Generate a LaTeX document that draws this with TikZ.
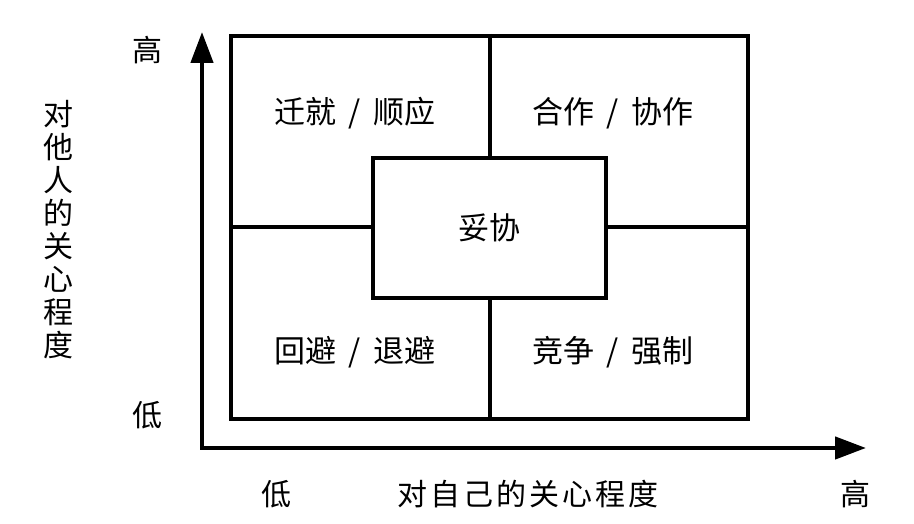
\documentclass[tikz,border=0pt]{standalone}
\usepackage{fontspec}
\setmainfont{Noto Sans CJK SC}
\newfontfamily\cjkwide[LetterSpace=10]{Noto Sans CJK SC}
\usetikzlibrary{arrows.meta}
\newcommand\qsep{\hspace{.4em}/\hspace{.4em}}
\begin{document}
\begin{tikzpicture}[x=1pt,y=1pt,font=\fontsize{30}{34}\selectfont,
  axis/.style={line width=4.5pt,-{Triangle[length=31pt,width=22pt]}},
  cell/.style={draw,line width=4pt,inner sep=0pt},
  quad/.style={font=\fontsize{31}{34}\selectfont}]
\useasboundingbox (0,0) rectangle (914,524);
% axes
\coordinate (O) at (202,76);
\coordinate (ytip) at (202,492);
\coordinate (xtip) at (866,76);
\draw[axis] ([yshift=-2pt]O) -- (ytip);
\draw[axis] ([xshift=-2pt]O) -- (xtip);
\node (yhigh) at (147,474) {高};
\node (ylow) at (147,109) {低};
\node[align=center,font=\fontsize{30}{33}\selectfont] (ylabel) at (58,294)
  {对\\他\\人\\的\\关\\心\\程\\度};
\node (xlow) at (276,30) {低};
\node (xlabel) at (528,30) {\cjkwide 对自己的关心程度};
\node (xhigh) at (855,30) {高};
% grid of styles
\node[cell,minimum width=517pt,minimum height=383pt] (grid) at (489.5,296.5) {};
\draw[line width=4pt] (grid.north) -- (grid.south);
\draw[line width=4pt] (grid.west) -- (grid.east);
\node[cell,fill=white,minimum width=233pt,minimum height=140pt,quad] (mid) at (489.5,296) {妥协};
\node[quad] (accom) at (355,411) {迁就\qsep 顺应};
\node[quad] (collab) at (613,411) {合作\qsep 协作};
\node[quad] (avoid) at (355,172) {回避\qsep 退避};
\node[quad] (compete) at (613,172) {竞争\qsep 强制};
\end{tikzpicture}
\end{document}
